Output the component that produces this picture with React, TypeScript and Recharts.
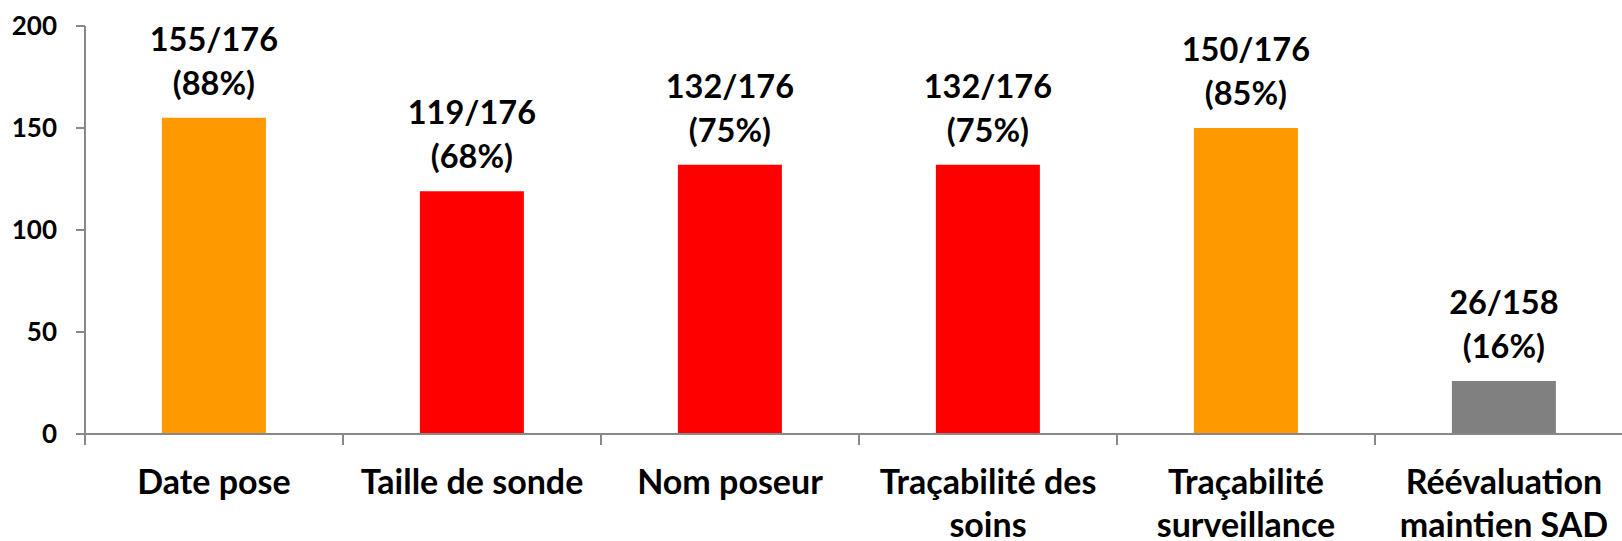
import React from 'react';
import { BarChart, Bar, XAxis, YAxis, Cell, LabelList } from 'recharts';

const categories = [
  'Date pose',
  'Taille de sonde',
  'Nom poseur',
  'Traçabilité des\nsoins',
  'Traçabilité\nsurveillance',
  'Réévaluation\nmaintien SAD',
];
const values = [155, 119, 132, 132, 150, 26];
const totals = [176, 176, 176, 176, 176, 158];
const percents = [88, 68, 75, 75, 85, 16];
const barColors = ['#FF9900', '#FF0000', '#FF0000', '#FF0000', '#FF9900', '#808080'];
const yTicks = [0, 50, 100, 150, 200];

const data = categories.map((c, i) => ({ name: c, value: values[i], total: totals[i], pct: percents[i] }));

const FONT = 'Lato, "Open Sans", sans-serif';
const AXIS_COLOR = '#888888';

const XTick = (props: any) => {
  const { x, y, payload } = props;
  const half = payload && payload.offset ? payload.offset : 129;
  const lines = String(payload.value).split('\n');
  return (
    <g>
      <line x1={x - half} y1={y} x2={x - half} y2={y + 11} stroke={AXIS_COLOR} strokeWidth={2} />
      <text x={x} y={y} textAnchor="middle" fontFamily={FONT} fontWeight="bold" fontSize={34} fill="#000">
        {lines.map((l, i) => (
          <tspan key={i} x={x} dy={i === 0 ? 60 : 43}>{l}</tspan>
        ))}
      </text>
    </g>
  );
};

const BarLabel = (props: any) => {
  const { x, y, width, index } = props;
  const cx = x + width / 2;
  const d = data[index];
  return (
    <text x={cx} y={y} textAnchor="middle" fontFamily={FONT} fontWeight="bold" fontSize={32.5} fill="#000">
      <tspan x={cx} dy={-67}>{`${d.value}/${d.total}`}</tspan>
      <tspan x={cx} dy={44}>{`(${d.pct}%)`}</tspan>
    </text>
  );
};

export default function App() {
  return (
    <div style={{ position: 'absolute', left: 0, top: 0, width: 1622, height: 541, overflow: 'hidden', background: '#fff' }}>
      <BarChart
        width={1640}
        height={541}
        data={data}
        margin={{ top: 26, right: 7, bottom: 0, left: 0 }}
        barCategoryGap="29.8%"
      >
        <YAxis
          domain={[0, 200]}
          ticks={yTicks}
          width={85}
          tickSize={9}
          tickMargin={19}
          axisLine={{ stroke: AXIS_COLOR, strokeWidth: 2 }}
          tickLine={{ stroke: AXIS_COLOR, strokeWidth: 2 }}
          tick={{ fontFamily: FONT, fontWeight: 'bold', fontSize: 26, fill: '#000' }}
          interval={0}
        />
        <XAxis
          dataKey="name"
          height={107}
          interval={0}
          tickLine={false}
          tickSize={0}
          tickMargin={0}
          axisLine={{ stroke: AXIS_COLOR, strokeWidth: 2 }}
          tick={<XTick />}
        />
        <Bar dataKey="value" isAnimationActive={false}>
          {data.map((d, i) => (
            <Cell key={i} fill={barColors[i]} />
          ))}
          <LabelList dataKey="value" content={<BarLabel />} />
        </Bar>
      </BarChart>
    </div>
  );
}
